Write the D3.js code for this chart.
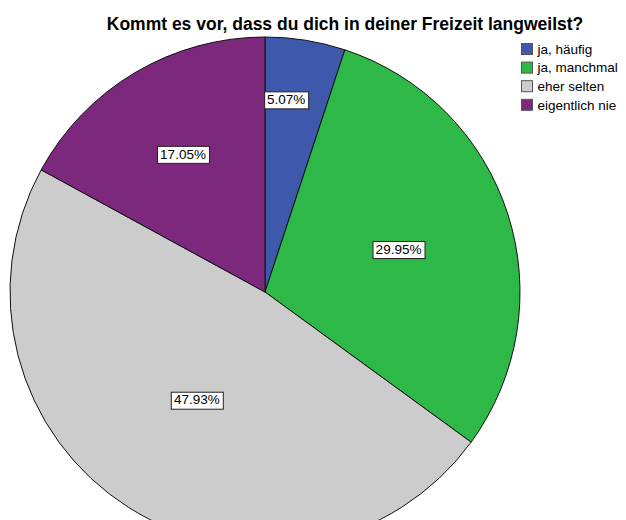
<!DOCTYPE html>
<html>
<head>
<meta charset="utf-8">
<script src="https://cdn.jsdelivr.net/npm/d3@7"></script>
<style>
  body { margin: 0; background: #fff; }
  svg { display: block; font-family: "Liberation Sans", Arial, sans-serif; }
</style>
</head>
<body>
<svg></svg>
<script>
// chart data
var categories = ["ja, häufig", "ja, manchmal", "eher selten", "eigentlich nie"];
var percents = [5.07, 29.95, 47.93, 17.05];
var colors = ["#3e58ac", "#2eb848", "#cccccc", "#7c287d"];
// how far out each percentage box sits (fraction of the radius)
var labelRadius = [0.76, 0.55, 0.5, 0.63];

var width = 626, height = 520;
var cx = 265, cy = 292, radius = 255;

var svg = d3.select("svg")
    .attr("width", width)
    .attr("height", height);

// title
svg.append("text")
    .attr("x", 345)
    .attr("y", 30)
    .attr("text-anchor", "middle")
    .style("font-size", "17.5px")
    .style("font-weight", "bold")
    .text("Kommt es vor, dass du dich in deiner Freizeit langweilst?");

var data = categories.map(function(c, i) {
    return {name: c, value: percents[i], color: colors[i], lr: labelRadius[i]};
});

var pie = d3.pie()
    .sort(null)
    .value(function(d) { return d.value; });

var arc = d3.arc()
    .innerRadius(0)
    .outerRadius(radius);

var g = svg.append("g")
    .attr("transform", "translate(" + cx + "," + cy + ")");

var arcs = pie(data);

g.selectAll("path")
    .data(arcs)
    .enter()
    .append("path")
    .attr("d", arc)
    .attr("fill", function(d) { return d.data.color; })
    .attr("stroke", "#111")
    .attr("stroke-width", 1);

// percentage boxes
var labels = g.selectAll("g.lbl")
    .data(arcs)
    .enter()
    .append("g")
    .attr("class", "lbl")
    .attr("transform", function(d) {
        var a = (d.startAngle + d.endAngle) / 2 - (d.index == 0 ? 0.05 : 0);
        var r = radius * d.data.lr;
        return "translate(" + (Math.sin(a) * r) + "," + (-Math.cos(a) * r) + ")";
    });

labels.append("text")
    .attr("text-anchor", "middle")
    .attr("dy", "0.35em")
    .style("font-size", "13.5px")
    .text(function(d) { return d.data.value.toFixed(2) + "%"; })
    .each(function() {
        var b = this.getBBox();
        d3.select(this.parentNode).insert("rect", "text")
            .attr("x", Math.round(b.x - 3) + 0.5)
            .attr("y", Math.round(b.y - 1) + 0.5)
            .attr("width", Math.round(b.width + 6))
            .attr("height", Math.round(b.height + 2))
            .attr("fill", "#fff")
            .attr("stroke", "#222")
            .attr("stroke-width", 1);
    });

// legend
var legend = svg.append("g")
    .attr("transform", "translate(521.5,43.5)");

var item = legend.selectAll("g")
    .data(data)
    .enter()
    .append("g")
    .attr("transform", function(d, i) { return "translate(0," + (i * 18.6) + ")"; });

item.append("rect")
    .attr("width", 11)
    .attr("height", 11)
    .attr("fill", function(d) { return d.color; })
    .attr("stroke", "#555")
    .attr("stroke-width", 1);

item.append("text")
    .attr("x", 16)
    .attr("y", 5.5)
    .attr("dy", "0.35em")
    .style("font-size", "13.5px")
    .text(function(d) { return d.name; });
</script>
</body>
</html>
